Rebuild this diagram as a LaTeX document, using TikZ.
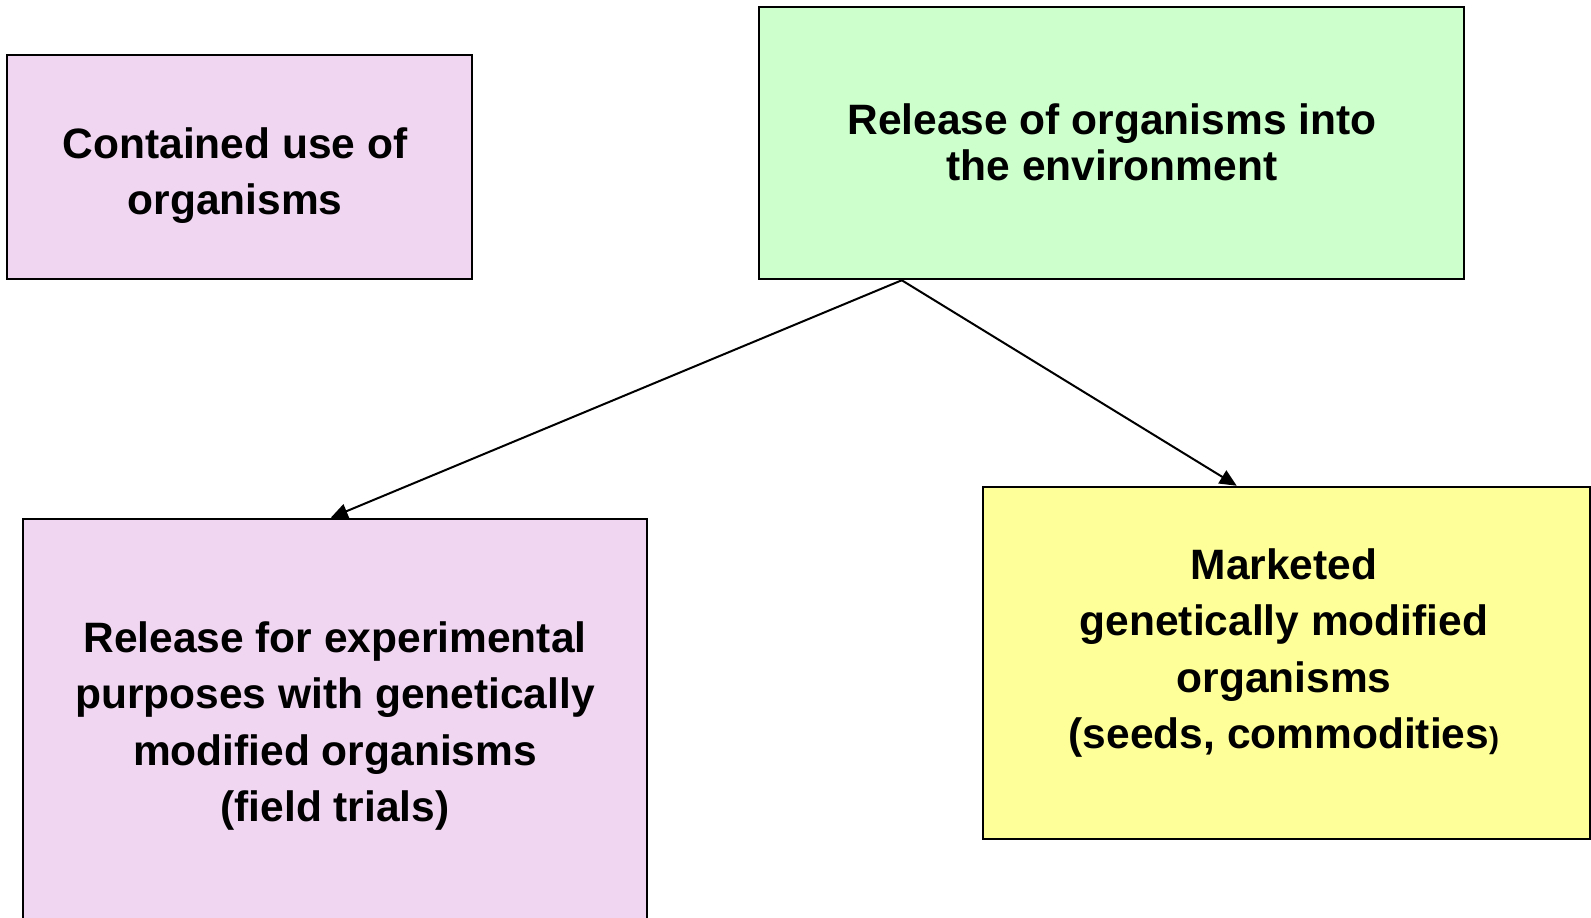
\documentclass[tikz,border=0pt]{standalone}
\usepackage{fontspec}
\setmainfont{Liberation Sans}
\usetikzlibrary{arrows.meta,calc}
\definecolor{pinkfill}{HTML}{F0D6F0}
\definecolor{greenfill}{HTML}{CCFFCC}
\definecolor{yellowfill}{HTML}{FFFF99}
\tikzset{
  boxstyle/.style={draw=black, line width=2.5pt, inner sep=0pt},
  txt/.style={align=center, font=\fontsize{42.5}{56.5}\selectfont\bfseries, inner sep=0pt},
  conn/.style={line width=2pt, -{Triangle[length=17pt,width=15pt]}}
}
\begin{document}
\begin{tikzpicture}[x=1pt,y=-1pt]
\useasboundingbox (0,0) rectangle (1591,918);
% boxes
\node[boxstyle, fill=pinkfill, minimum width=465pt, minimum height=224pt] (contained) at (239.5,167) {};
\node[boxstyle, fill=greenfill, minimum width=705pt, minimum height=272pt] (release) at (1111.5,143) {};
\node[boxstyle, fill=pinkfill, minimum width=624pt, minimum height=400pt] (experimental) at (335,719) {};
\node[boxstyle, fill=yellowfill, minimum width=607pt, minimum height=352pt] (marketed) at (1286.5,663) {};
% texts
\node[txt] (containedtext) at (235,175.5) {Contained use of\\organisms};
\node[txt, font=\fontsize{42.5}{45.7}\selectfont\bfseries] (releasetext) at (1112,142) {Release of organisms into\\the environment};
\node[txt] (experimentaltext) at (335,726) {Release for experimental\\purposes with genetically\\modified organisms\\(field trials)};
\node[txt] (marketedtext) at (1284,653) {Marketed\\genetically modified\\organisms\\(seeds, commodities{\fontsize{30}{30}\selectfont)}};
% connectors
\coordinate (gstart) at ($(release.south west)+(144,0)$);
\coordinate (yend) at ($(marketed.north west)+(255,0)$);
\coordinate (pend) at ($(experimental.north west)+(309,0)$);
\draw[conn] (gstart) -- (pend);
\draw[conn] (gstart) -- (yend);
\end{tikzpicture}
\end{document}
